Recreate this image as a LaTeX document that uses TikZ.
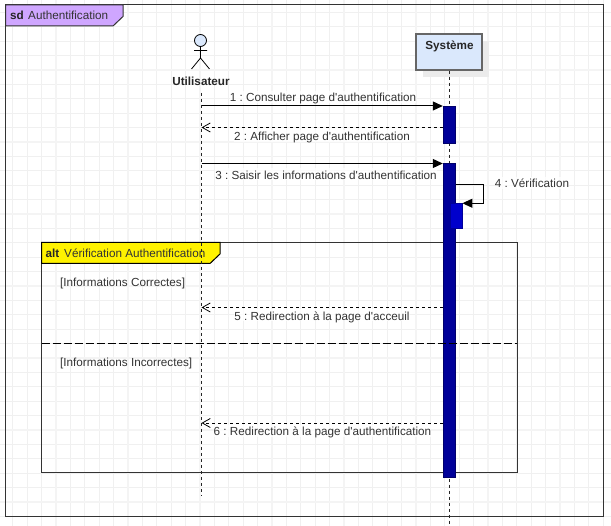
\documentclass[tikz,border=0pt]{standalone}
\usepackage{fontspec}
\setmainfont{Liberation Sans}
\usetikzlibrary{arrows.meta}
\definecolor{gridminor}{HTML}{F0F0F0}
\definecolor{gridmajor}{HTML}{F4F4F4}
\definecolor{tabpurple}{HTML}{CFA6FF}
\definecolor{lightblue}{HTML}{DAE8FC}
\definecolor{actdark}{HTML}{000099}
\definecolor{actmid}{HTML}{0000CC}
\definecolor{ink}{HTML}{333333}
\newcommand{\aq}{\textquotesingle}
\tikzset{
  lbl/.style={font=\fontsize{11.7}{14}\selectfont\frenchspacing, text=ink, inner sep=0pt, text height=11pt, text depth=1pt},
  msglbl/.style={lbl, fill=white, fill opacity=.75, text opacity=1},
  boldlbl/.style={lbl, font=\fontsize{11.7}{14}\selectfont\bfseries, text=black!85},
  actbar/.style={draw=actdark!70!black, fill=actdark, line width=.6pt, inner sep=0pt, minimum width=12.4pt},
  lifeline/.style={draw=black!85, line width=1pt, dash pattern=on 3pt off 3pt},
  sync/.style={draw=black, line width=1pt, -{Triangle[length=10pt,width=9pt]}},
  reply/.style={draw=black, line width=.9pt, dash pattern=on 3pt off 3pt, -{Straight Barb[length=8pt,width=9pt,line width=.8pt]}},
  framebox/.style={draw=ink, line width=1pt, inner sep=0pt}
}
\begin{document}
\begin{tikzpicture}[x=1pt,y=-1pt]
\useasboundingbox (0,0) rectangle (611,526);
\fill[white] (0,0) rectangle (611,526);
% grid
\foreach \k in {-1,...,41} {
  \draw[gridminor,line width=.8pt] ({12.7+14.4*\k},0) -- ({12.7+14.4*\k},526);
}
\foreach \k in {-1,...,36} {
  \draw[gridminor,line width=.8pt] (0,{-2+14.4*\k}) -- (611,{-2+14.4*\k});
}
\foreach \k in {0,...,8} {
  \draw[gridmajor,line width=1.6pt] ({-16+72*\k},0) -- ({-16+72*\k},526);
  \draw[gridmajor,line width=1.6pt] (0,{-2+72*\k}) -- (611,{-2+72*\k});
}
% outer frame
\node[framebox, minimum width=597.5pt, minimum height=511.5pt] (frame) at (304.25,260.75) {};
\draw[draw=ink, fill=tabpurple, line width=1pt] (5.5,5) -- (123,5) -- (123,16.5) -- (113,26) -- (5.5,26) -- cycle;
\node[boldlbl, anchor=west] (sdk) at (10,15) {sd};
\node[lbl, anchor=west] (sdt) at (28,15) {Authentification};
% actor
\node[draw=black, fill=lightblue, circle, line width=.8pt, minimum size=12pt, inner sep=0pt] (head) at (200.5,40.5) {};
\coordinate (hip) at (200.5,58);
\coordinate (armL) at (194,50.5);
\coordinate (armR) at (207,50.5);
\coordinate (legL) at (191.5,69);
\coordinate (legR) at (209.5,69);
\draw[black,line width=.8pt] (head.south) -- (hip) (armL) -- (armR) (legL) -- (hip) -- (legR);
\node[boldlbl] (user) at (201,81) {Utilisateur};
% system box
\fill[black!8] (423,41) rectangle (489,77);
\node[draw=black!60, fill=lightblue, line width=1.5pt, inner sep=0pt, minimum width=66pt, minimum height=36pt] (sys) at (449,52) {};
\node[boldlbl] (systxt) at (449.5,45) {Système};
% alt frame
\node[framebox, minimum width=475.5pt, minimum height=230.5pt] (alt) at (279.25,357.75) {};
\draw[draw=black, fill=yellow, line width=1pt] (41.5,242.5) -- (220,242.5) -- (220,254) -- (210,263.5) -- (41.5,263.5) -- cycle;
\node[boldlbl, anchor=west] (altk) at (45.5,252.5) {alt};
\node[lbl, anchor=west] (altt) at (64,252.5) {Vérification Authentification};
\node[lbl, anchor=west] (g1) at (60,282) {[Informations Correctes]};
\node[lbl, anchor=west] (g2) at (60,361.5) {[Informations Incorrectes]};
% lifelines
\coordinate (uTop) at (201.5,93);
\coordinate (uEnd) at (201.5,496);
\coordinate (sEnd) at (449.5,526);
\draw[lifeline] (uTop) -- (uEnd);
\draw[lifeline] (sys.south) ++(0.5,0) -- (sEnd);
% activations
\node[actbar, minimum height=37.5pt] (a1) at (449.3,124.75) {};
\node[actbar, minimum height=313.5pt] (a2) at (449.3,320.25) {};
\node[draw=actdark, fill=actmid, line width=.8pt, inner sep=0pt, minimum width=12pt, minimum height=25.5pt] (a3) at (456,216) {};
% divider
\coordinate (dL) at (41.5,343.5);
\coordinate (dR) at (517,343.5);
\draw[black,line width=1pt,dash pattern=on 8pt off 3pt] (dL) -- (dR);
% messages
\coordinate (u1) at (201.5,106);
\coordinate (u2) at (201.5,127.5);
\coordinate (u3) at (201.5,163.5);
\coordinate (u5) at (201.5,307.5);
\coordinate (u6) at (201.5,423);
\draw[sync] (u1) -- (a1.west |- u1);
\draw[reply] (a1.west |- u2) -- (u2);
\draw[sync] (u3) -- (a2.west |- u3);
\draw[reply] (a2.west |- u5) -- (u5);
\draw[reply] (a2.west |- u6) -- (u6);
\coordinate (selfA) at (456,185);
\coordinate (selfB) at (483,185);
\coordinate (selfC) at (483,203.25);
\draw[sync] (selfA) -- (selfB) -- (selfC) -- (a3.east |- selfC);
\node[msglbl] (m1) at (323,97) {1 : Consulter page d\aq authentification};
\node[msglbl] (m2) at (322,136) {2 : Afficher page d\aq authentification};
\node[msglbl] (m3) at (326,174.5) {3 : Saisir les informations d\aq authentification};
\node[msglbl] (m4) at (532,183) {4 : Vérification};
\node[msglbl] (m5) at (322,315.5) {5 : Redirection à la page d\aq acceuil};
\node[msglbl] (m6) at (322.5,431) {6 : Redirection à la page d\aq authentification};
\end{tikzpicture}
\end{document}
